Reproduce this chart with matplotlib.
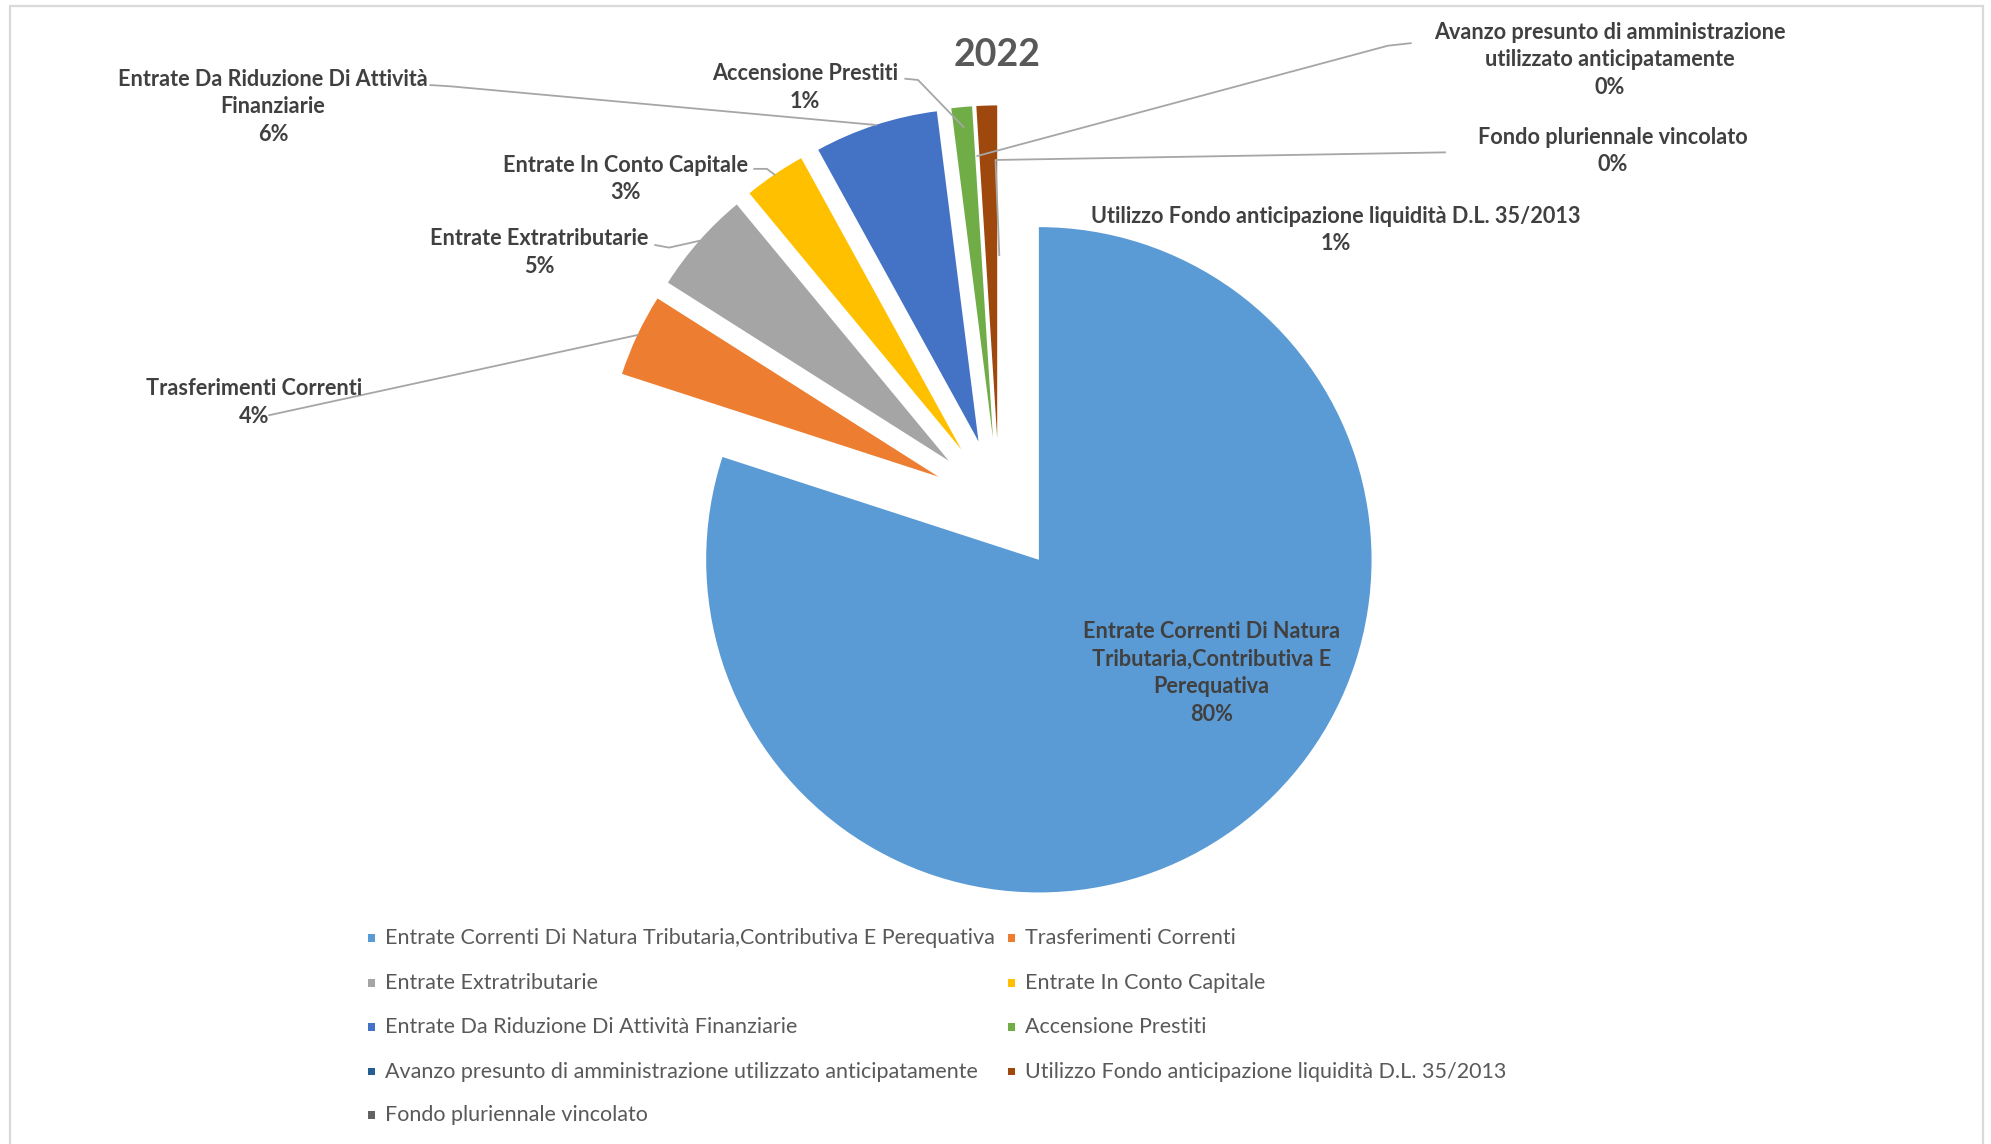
import matplotlib.pyplot as plt
from matplotlib.patches import Rectangle
import numpy as np

categories = [
    'Entrate Correnti Di Natura Tributaria,Contributiva E Perequativa',
    'Trasferimenti Correnti',
    'Entrate Extratributarie',
    'Entrate In Conto Capitale',
    'Entrate Da Riduzione Di Attività Finanziarie',
    'Accensione Prestiti',
    'Avanzo presunto di amministrazione utilizzato anticipatamente',
    'Utilizzo Fondo anticipazione liquidità D.L. 35/2013',
    'Fondo pluriennale vincolato',
]
percent = [80, 4, 5, 3, 6, 1, 0, 1, 0]
slice_labels = [
    'Entrate Correnti Di Natura\nTributaria,Contributiva E\nPerequativa',
    'Trasferimenti Correnti',
    'Entrate Extratributarie',
    'Entrate In Conto Capitale',
    'Entrate Da Riduzione Di Attività\nFinanziarie',
    'Accensione Prestiti',
    'Avanzo presunto di amministrazione\nutilizzato anticipatamente',
    'Utilizzo Fondo anticipazione liquidità D.L. 35/2013',
    'Fondo pluriennale vincolato',
]
colors = ['#5B9BD5', '#ED7D31', '#A5A5A5', '#FFC000', '#4472C4',
          '#70AD47', '#255E91', '#9E480E', '#636363']
title = '2022'

FONT = ['Lato', 'DejaVu Sans']
W, H = 1568, 901  # layout units (measured on the picture, y from top)


def fy(y):
    return H - y


fig = plt.figure(figsize=(19.91, 11.44), dpi=100)
ax = fig.add_axes([0, 0, 1, 1])

# outer frame of the chart area
fig.patches.append(Rectangle((8 / W, -0.02), (1562 - 8) / W, 1.02 - 5 / H,
                             transform=fig.transFigure, fill=False,
                             edgecolor='#D9D9D9', linewidth=1.6))

radius = 262
wedges, _ = ax.pie(percent, colors=colors, startangle=90, counterclock=False,
                   center=(787, fy(398)), radius=radius,
                   explode=[53] * len(percent),
                   wedgeprops=dict(linewidth=0), frame=True)
ax.set_xlim(0, W)
ax.set_ylim(0, H)
ax.set_aspect('auto')
ax.axis('off')

ax.text(785, fy(43), title, ha='center', va='center', fontsize=27,
        fontweight='bold', color='#595959', family=FONT)

# label block centres, leader elbows and where the leader meets the slice
label_pos = [(954, 530), (200, 317), (425, 199), (493, 141), (215, 84),
             (634, 69), (1268, 47), (1052, 181), (1270, 119)]
leader_pts = [None, [(212, 327)], [(516, 193), (527, 195)],
              [(594, 133), (604, 133)], [(339, 67), (355, 68)],
              [(713, 62), (723, 63)], [(1111, 34), (1093, 36)], None,
              [(1138, 120), (784, 126)]]
leader_reach = [1, 1, 1, 1, 1, 0.94, 0.85, 1, 0.55]

for i, w in enumerate(wedges):
    x, y = label_pos[i]
    ax.text(x, fy(y), f'{slice_labels[i]}\n{percent[i]}%', ha='center',
            va='center', fontsize=15.6, fontweight='bold', color='#404040',
            family=FONT, linespacing=1.38)
    if leader_pts[i] is None:
        continue
    tm = np.deg2rad((w.theta1 + w.theta2) / 2)
    cx, cy = w.center
    end = (cx + w.r * leader_reach[i] * np.cos(tm),
           cy + w.r * leader_reach[i] * np.sin(tm))
    xs = [p[0] for p in leader_pts[i]] + [end[0]]
    ys = [fy(p[1]) for p in leader_pts[i]] + [end[1]]
    ax.plot(xs, ys, color='#A6A6A6', linewidth=1.3)

# legend, two entries per row as in the original
row_y = [739, 774, 809, 844, 878]
col_x = [292.5, 796.5]
for i, name in enumerate(categories):
    r, c = divmod(i, 2)
    ax.add_patch(Rectangle((col_x[c] - 2.5, fy(row_y[r]) - 3), 5, 6,
                           facecolor=colors[i], edgecolor='none'))
    ax.text(col_x[c] + 11, fy(row_y[r]), name, ha='left', va='center',
            fontsize=15.5, color='#595959', family=FONT)

fig.savefig('out.png', dpi=100)
